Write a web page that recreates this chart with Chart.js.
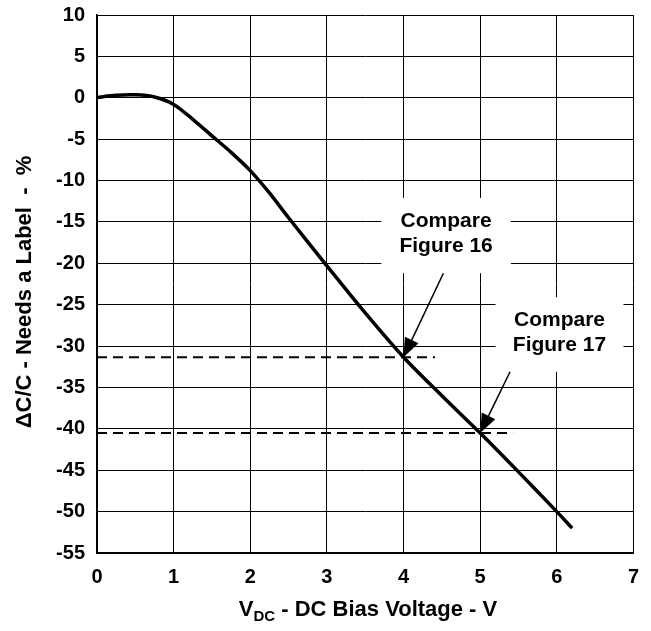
<!DOCTYPE html>
<html>
<head>
<meta charset="utf-8">
<script src="https://cdn.jsdelivr.net/npm/chart.js@4.4.0/dist/chart.umd.min.js"></script>
<style>body{margin:0;background:#fff}</style>
</head>
<body>
<canvas id="c" width="651" height="631"></canvas>
<script>
// curva de bias DC
var biasV=[0,0.25,0.5,0.75,1,1.25,1.5,1.75,2,2.25,2.5,3,3.5,4,4.5,5,5.5,6,6.2];
var deltaC=[0.05,0.3,0.35,0.1,-0.8,-2.6,-4.6,-6.6,-8.8,-11.5,-14.5,-20.3,-26,-31.35,-36,-40.5,-45.2,-50,-52];

// linhas tracejadas de referencia
var ref16X=[0,4.41];
var ref16Y=[-31.35,-31.35];
var ref17X=[0,5.43];
var ref17Y=[-40.5,-40.5];

// textos
var calloutText=[["Compare","Figure 16"],["Compare","Figure 17"]];
var xTitleMain="V", xTitleSub="DC", xTitleRest=" - DC Bias Voltage - V";
var yTitle="\u0394C/C - Needs a Label  -  %";

function pts(xs,ys){
    var out=[];
    for(var i=0;i<xs.length;i++){ out.push({x:xs[i],y:ys[i]}); }
    return out;
}

// caixas brancas e setas (em coordenadas de dados)
var calloutBox=[[3.71,-12.1,5.40,-21.2],[5.2,-24.1,6.87,-33.1]];
var arrowFrom=[[4.52,-21.2],[5.39,-33.1]];
var arrowTo=[[4,-31.35],[5,-40.5]];

var FONT='"Liberation Sans", Arial, sans-serif';

var callouts={
    id:'callouts',
    beforeDatasetsDraw:function(chart){
        var ctx=chart.ctx, sx=chart.scales.x, sy=chart.scales.y;
        ctx.save();
        ctx.fillStyle='#fff';
        calloutBox.forEach(function(b){
            var x1=sx.getPixelForValue(b[0]), y1=sy.getPixelForValue(b[1]);
            var x2=sx.getPixelForValue(b[2]), y2=sy.getPixelForValue(b[3]);
            ctx.fillRect(x1,y1,x2-x1,y2-y1);
        });
        ctx.restore();
    },
    afterDatasetsDraw:function(chart){
        var ctx=chart.ctx, sx=chart.scales.x, sy=chart.scales.y;
        ctx.save();
        ctx.fillStyle='#000';
        ctx.font='bold 21px '+FONT;
        ctx.textAlign='center';
        ctx.textBaseline='middle';
        calloutBox.forEach(function(b,i){
            var cx=(sx.getPixelForValue(b[0])+sx.getPixelForValue(b[2]))/2;
            var top=sy.getPixelForValue(b[1]);
            ctx.fillText(calloutText[i][0],cx,top+23);
            ctx.fillText(calloutText[i][1],cx,top+48);
        });
        // setas
        ctx.strokeStyle='#000';
        ctx.lineWidth=1.5;
        arrowFrom.forEach(function(f,i){
            var x0=sx.getPixelForValue(f[0]), y0=sy.getPixelForValue(f[1]);
            var x1=sx.getPixelForValue(arrowTo[i][0]), y1=sy.getPixelForValue(arrowTo[i][1]);
            var a=Math.atan2(y1-y0,x1-x0), len=19, hw=7.5;
            var bx=x1-len*Math.cos(a), by=y1-len*Math.sin(a);
            ctx.beginPath();
            ctx.moveTo(x0,y0);
            ctx.lineTo(bx,by);
            ctx.stroke();
            ctx.beginPath();
            ctx.moveTo(x1,y1);
            ctx.lineTo(bx+hw*Math.sin(a),by-hw*Math.cos(a));
            ctx.lineTo(bx-hw*Math.sin(a),by+hw*Math.cos(a));
            ctx.closePath();
            ctx.fill();
        });
        ctx.restore();
    },
    afterDraw:function(chart){
        var ctx=chart.ctx;
        ctx.save();
        ctx.fillStyle='#000';
        // titulo do eixo y (rotacionado)
        ctx.font='bold 22px '+FONT;
        ctx.textAlign='center';
        ctx.textBaseline='middle';
        ctx.translate(25,292);
        ctx.rotate(-Math.PI/2);
        ctx.fillText(yTitle,0,0);
        ctx.setTransform(1,0,0,1,0,0);
        // titulo do eixo x com subscrito
        ctx.textBaseline='alphabetic';
        ctx.textAlign='left';
        var big='bold 22px '+FONT, small='bold 15px '+FONT;
        ctx.font=big;
        var w1=ctx.measureText(xTitleMain).width, w3=ctx.measureText(xTitleRest).width;
        ctx.font=small;
        var w2=ctx.measureText(xTitleSub).width;
        var x=368-(w1+w2+w3)/2, y=616;
        ctx.font=big; ctx.fillText(xTitleMain,x,y);
        ctx.font=small; ctx.fillText(xTitleSub,x+w1,y+5);
        ctx.font=big; ctx.fillText(xTitleRest,x+w1+w2,y);
        ctx.restore();
    }
};

new Chart(document.getElementById("c"), {
    type:'scatter',
    data:{
        datasets:[
            {data:pts(biasV,deltaC),showLine:true,borderColor:'#000',borderWidth:3.5,pointRadius:0,tension:0.3},
            {data:pts(ref16X,ref16Y),showLine:true,borderColor:'#000',borderWidth:2,borderDash:[10,6],pointRadius:0},
            {data:pts(ref17X,ref17Y),showLine:true,borderColor:'#000',borderWidth:2,borderDash:[10,6],pointRadius:0}
        ]
    },
    options:{
        responsive:false,
        animation:false,
        layout:{padding:{left:0,top:15,right:15,bottom:0}},
        plugins:{legend:{display:false},tooltip:{enabled:false}},
        scales:{
            x:{
                type:'linear',min:0,max:7,
                ticks:{stepSize:1,padding:12,color:'#000',font:{family:FONT,size:20,weight:'bold'}},
                grid:{color:'#000',lineWidth:1,drawTicks:false},
                border:{color:'#000',width:1.5},
                afterFit:function(s){ s.height=78; }
            },
            y:{
                min:-55,max:10,
                ticks:{stepSize:5,padding:12,color:'#000',font:{family:FONT,size:20,weight:'bold'}},
                grid:{color:'#000',lineWidth:1,drawTicks:false},
                border:{color:'#000',width:1.5},
                afterFit:function(s){ s.width=97; s.paddingTop=0; s.paddingBottom=0; }
            }
        }
    },
    plugins:[callouts]
});
</script>
</body>
</html>
